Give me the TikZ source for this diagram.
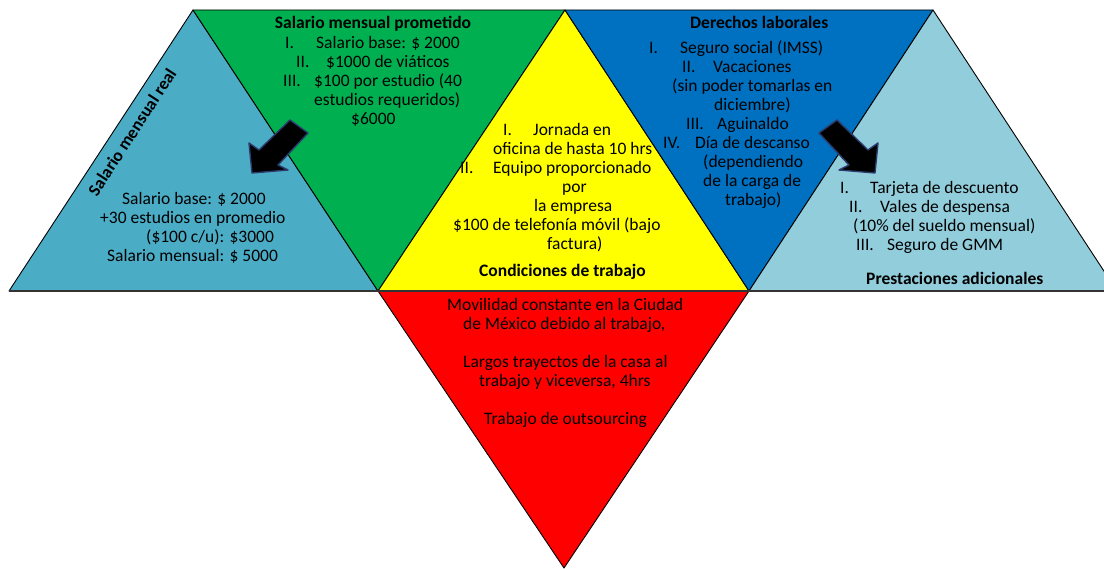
\documentclass[tikz,border=0pt]{standalone}
\usepackage{fontspec}
\setmainfont{Carlito}
\definecolor{cLB}{HTML}{4BACC6}
\definecolor{cGR}{HTML}{00B050}
\definecolor{cYE}{HTML}{FFFF00}
\definecolor{cBL}{HTML}{0070C0}
\definecolor{cRB}{HTML}{92CDDC}
\definecolor{cRE}{HTML}{FF0000}
\definecolor{navyglow}{HTML}{2B3A6B}
\definecolor{baseln}{HTML}{333333}
\newcommand\Li[4]{\makebox[0pt][l]{\hspace*{#1pt}#3}\hspace*{#2pt}#4}
\newcommand\Ln[2]{\hspace*{#1pt}#2}
\tikzset{
  tri/.style={draw=black, line width=0.9pt, line join=round},
  blk/.style={anchor=base west, inner sep=0pt, text=black, font=\fontsize{17.5}{19}\selectfont},
  ttl/.style={anchor=base west, inner sep=0pt, text=black, font=\fontsize{17.5}{19}\selectfont\bfseries},
  blockarrow/.style={fill=black, draw=navyglow, line width=1.4pt, line join=round}
}
\begin{document}
\begin{tikzpicture}[x=1pt,y=-1pt]
\path[use as bounding box] (0,0) rectangle (1104,569);
\clip (0,0) rectangle (1104,569);
% vertices
\coordinate (P1) at (9,291);
\coordinate (P2) at (378,291);
\coordinate (P3) at (749,291);
\coordinate (P4) at (1117,291);
\coordinate (Q1) at (193,10);
\coordinate (Q2) at (565,10);
\coordinate (Q3) at (933,10);
\coordinate (R1) at (564,568);
% triangles
\filldraw[tri, fill=cLB] (P1) -- (Q1) -- (P2) -- cycle;
\filldraw[tri, fill=cGR] (Q1) -- (Q2) -- (P2) -- cycle;
\filldraw[tri, fill=cYE] (P2) -- (Q2) -- (P3) -- cycle;
\filldraw[tri, fill=cBL] (Q2) -- (Q3) -- (P3) -- cycle;
\filldraw[tri, fill=cRB] (P3) -- (Q3) -- (P4) -- cycle;
\filldraw[tri, fill=cRE] (P2) -- (P3) -- (R1) -- cycle;
\draw[baseln, line width=1.6pt] (P1) -- (P4);
% arrows
\filldraw[blockarrow] (290,120) -- (308,133) -- (278,165) -- (288,170) -- (252,173) -- (249,143) -- (259,150) -- cycle;
\filldraw[blockarrow] (837,120) -- (819,133) -- (849,165) -- (839,170) -- (875,173) -- (878,143) -- (868,150) -- cycle;
% left light blue
\node[ttl, anchor=center, rotate=57] (lt) at (132,132) {Salario mensual real};
\node[blk] (lb) at (100,204.5) {\begin{tabular}[t]{@{}l@{}}
\Ln{22}{Salario base: \$ 2000}\\
\Ln{0}{+30 estudios en promedio}\\
\Ln{46}{(\$100 c/u): \$3000}\\
\Ln{7}{Salario mensual: \$ 5000}
\end{tabular}};
% green
\node[ttl, anchor=base] (gt) at (373,28.5) {Salario mensual prometido};
\node[blk] (gb) at (283,48.5) {\begin{tabular}[t]{@{}l@{}}
\Li{2}{33}{I.}{Salario base: \$ 2000}\\
\Li{13}{43}{II.}{\$1000 de viáticos}\\
\Li{0}{31}{III.}{\$100 por estudio (40}\\
\Ln{31}{estudios requeridos)}\\
\Ln{68}{\$6000}
\end{tabular}};
% yellow
\node[blk] (yb) at (453,135.5) {\begin{tabular}[t]{@{}l@{}}
\Li{50}{80}{I.}{Jornada en}\\
\Ln{40}{oficina de hasta 10 hrs}\\
\Li{7}{40}{II.}{Equipo proporcionado}\\
\Ln{109}{por}\\
\Ln{81}{la empresa}\\
\Ln{0}{\$100 de telefonía móvil (bajo}\\
\Ln{94}{factura)}
\end{tabular}};
\node[ttl] (yt) at (479,276.5) {Condiciones de trabajo};
% blue
\node[ttl] (bt) at (690,28.5) {Derechos laborales};
\node[blk] (bb) at (649,53.5) {\begin{tabular}[t]{@{}l@{}}
\Li{0}{31}{I.}{Seguro social (IMSS)}\\
\Li{33}{64}{II.}{Vacaciones}\\
\Ln{23}{(sin poder tomarlas en}\\
\Ln{65}{diciembre)}\\
\Li{37}{68}{III.}{Aguinaldo}\\
\Li{14}{46}{IV.}{Día de descanso}\\
\Ln{54}{(dependiendo}\\
\Ln{54}{de la carga de}\\
\Ln{76}{trabajo)}
\end{tabular}};
% right light blue
\node[blk] (rb) at (840,193.5) {\begin{tabular}[t]{@{}l@{}}
\Li{0}{30}{I.}{Tarjeta de descuento}\\
\Li{9}{40}{II.}{Vales de despensa}\\
\Ln{13}{(10\% del sueldo mensual)}\\
\Li{16}{47}{III.}{Seguro de GMM}
\end{tabular}};
\node[ttl] (rt) at (866,284.5) {Prestaciones adicionales};
% red
\node[blk] (db) at (447,310.5) {\begin{tabular}[t]{@{}l@{}}
\Ln{0}{Movilidad constante en la Ciudad}\\
\Ln{16}{de México debido al trabajo,}\\
\\
\Ln{16}{Largos trayectos de la casa al}\\
\Ln{32}{trabajo y viceversa, 4hrs}\\
\\
\Ln{37}{Trabajo de outsourcing}
\end{tabular}};
\end{tikzpicture}
\end{document}
